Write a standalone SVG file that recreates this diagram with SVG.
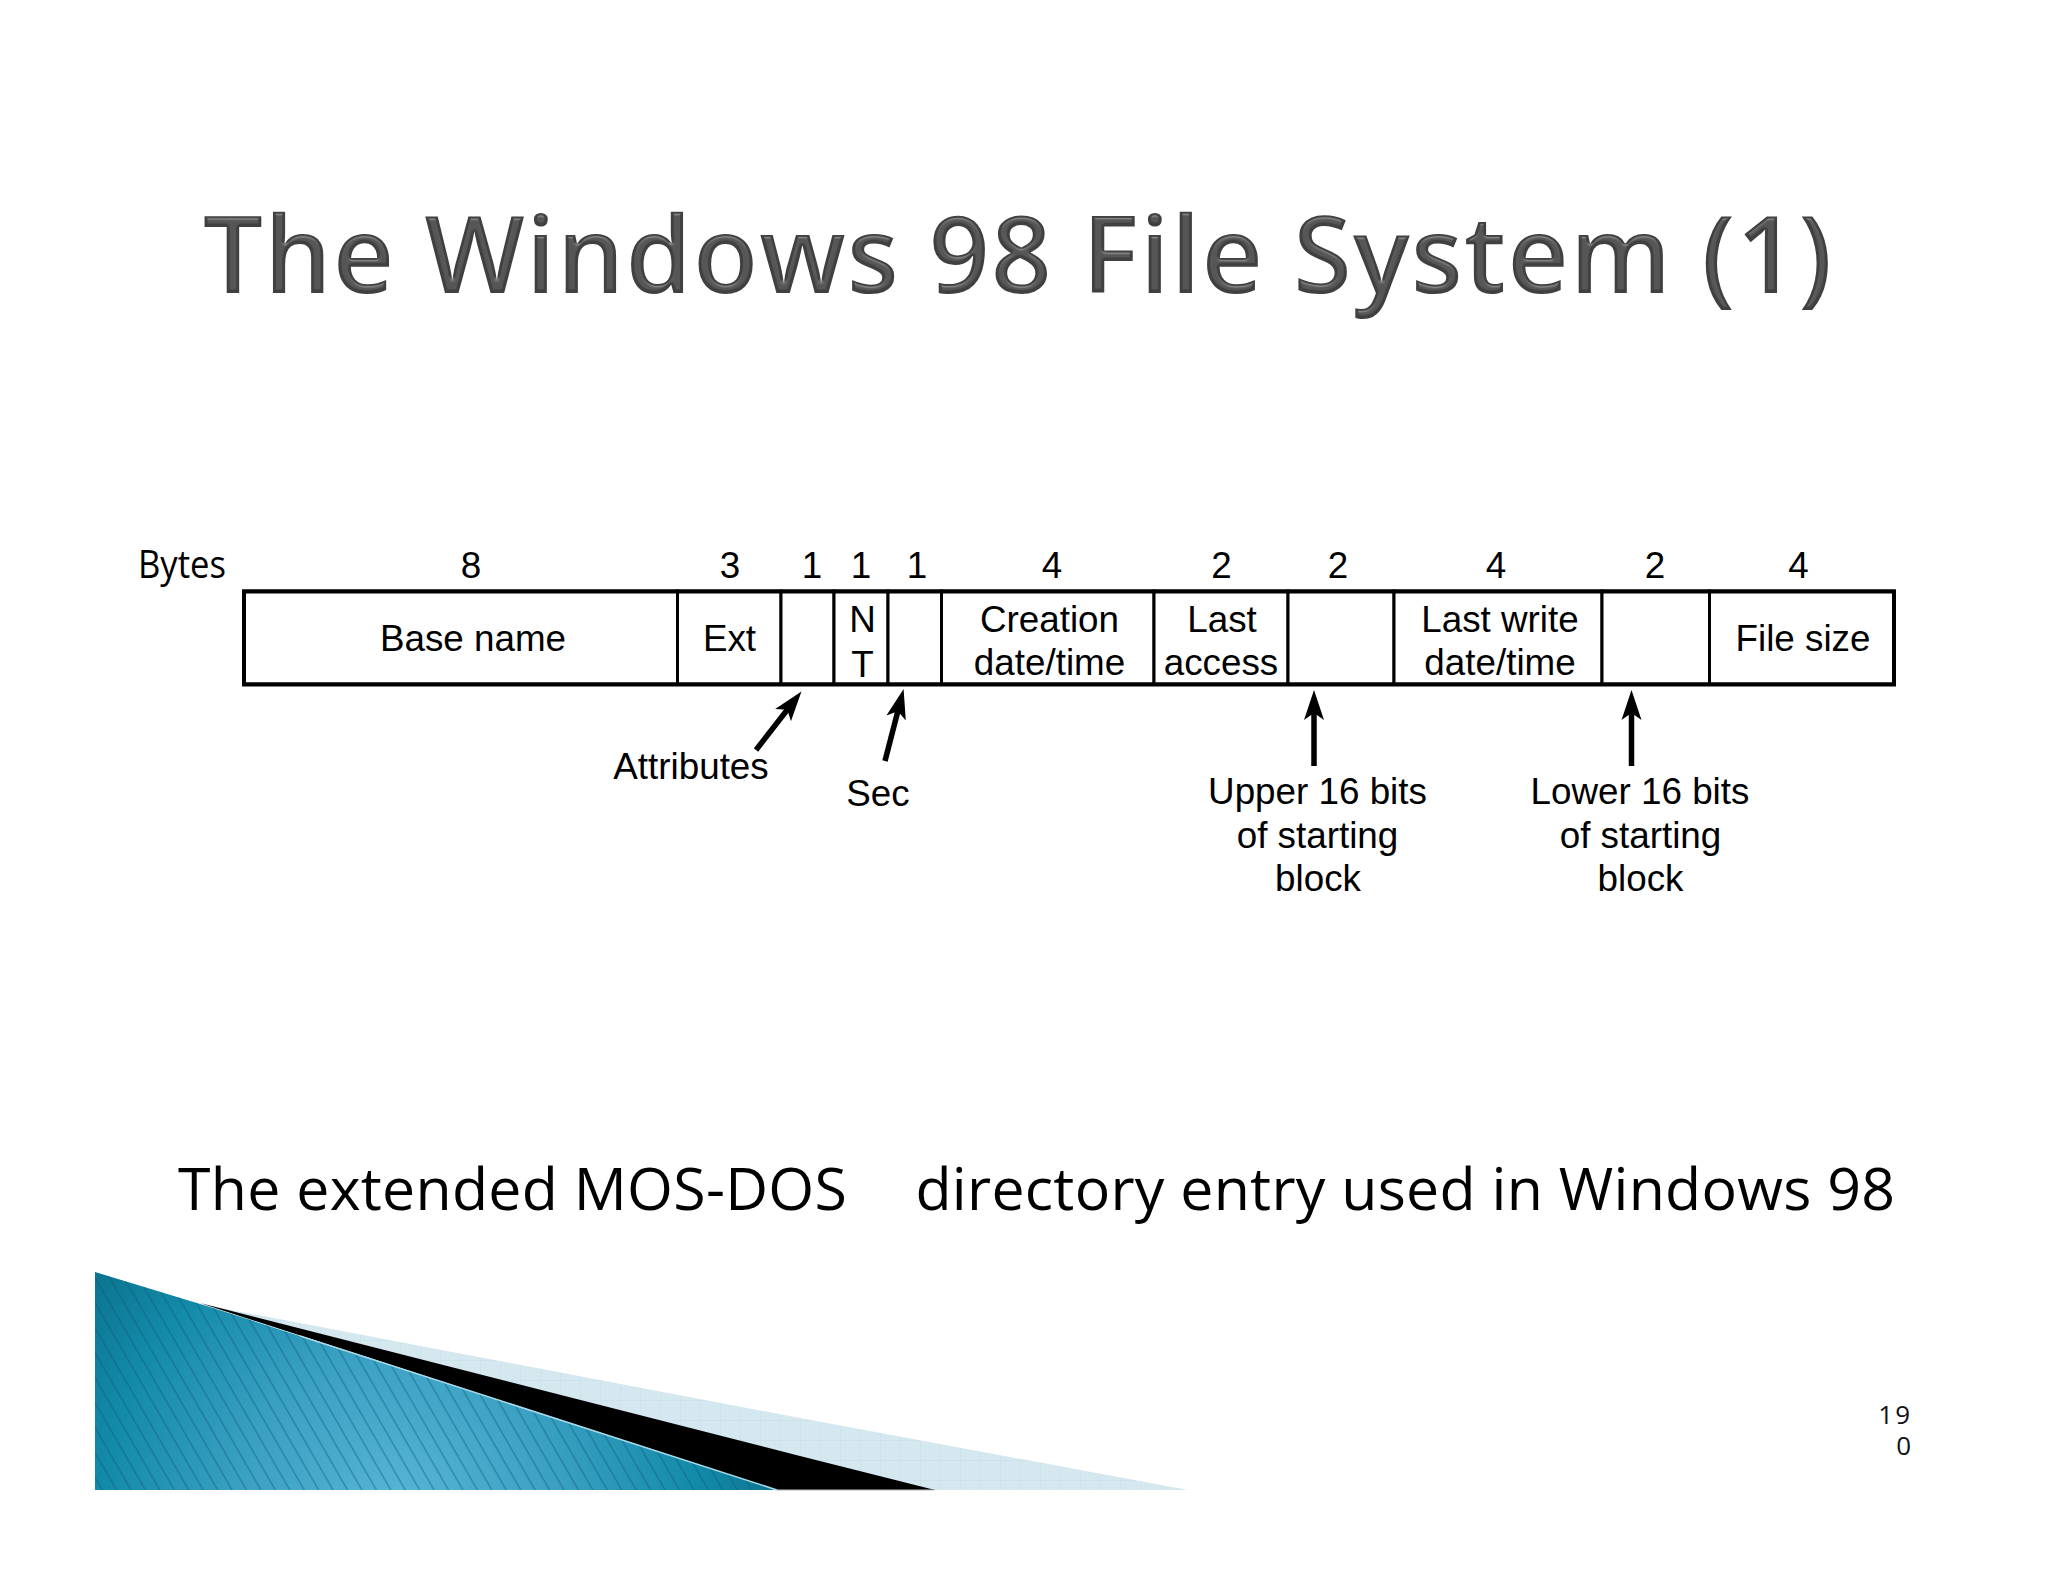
<svg xmlns="http://www.w3.org/2000/svg" width="2048" height="1582" viewBox="0 0 2048 1582">
<style>
.t{font-family:"Liberation Sans",Arial,sans-serif;font-size:36.8px;fill:#000;text-anchor:middle}
.c{fill:#fff;stroke:#000;stroke-width:3}
.h{font-family:"Open Sans","Noto Sans",sans-serif}
.a{fill:none;stroke:#000;stroke-width:5.5;marker-end:url(#arrow)}
</style>
<defs>
<marker id="arrow" markerUnits="userSpaceOnUse" markerWidth="32" markerHeight="24" viewBox="0 0 32 24" refX="10" refY="12" orient="auto">
<path d="M0,2 L30,12 L0,22 L7,12 Z" fill="#000"/>
</marker>
<radialGradient id="blue" gradientUnits="userSpaceOnUse" cx="400" cy="1510" r="450">
<stop offset="0" stop-color="#58b6d6"/><stop offset=".35" stop-color="#3ba1c3"/><stop offset=".66" stop-color="#138aa9"/><stop offset="1" stop-color="#05647c"/>
</radialGradient>
<pattern id="stripes" patternUnits="userSpaceOnUse" width="12.5" height="12.5" patternTransform="rotate(-30)">
<line x1="6" y1="0" x2="6" y2="12.5" stroke="#0b5a78" stroke-width="1.3" stroke-opacity=".5"/>
</pattern>
<pattern id="grid" patternUnits="userSpaceOnUse" width="20" height="20">
<rect width="20" height="20" fill="#d5e7ef"/>
<path d="M0,0H20M0,0V20" stroke="#c6dde8" stroke-width="1"/>
</pattern>
<filter id="bevel" x="-2%" y="-10%" width="104%" height="120%">
<feGaussianBlur in="SourceAlpha" stdDeviation="1.6" result="b"/>
<feSpecularLighting in="b" surfaceScale="3" specularConstant=".6" specularExponent="22" lighting-color="#fff" result="s">
<feDistantLight azimuth="270" elevation="50"/>
</feSpecularLighting>
<feComposite in="s" in2="SourceAlpha" operator="in" result="s2"/>
<feComposite in="SourceGraphic" in2="s2" operator="arithmetic" k1="0" k2="1" k3=".3" k4="0"/>
</filter>
</defs>
<rect width="2048" height="1582" fill="#fff"/>

<g id="wedge">
<polygon points="200,1304 800,1418 1188,1490 800,1490" fill="url(#grid)"/>
<polygon points="200,1303 800,1456 935,1490 777,1490" fill="#000"/>
<polygon points="95,1272 210,1307 777,1490 95,1490" fill="url(#blue)"/>
<polygon points="95,1272 210,1307 777,1490 95,1490" fill="url(#stripes)"/>
<line x1="300" y1="1336" x2="777" y2="1490" stroke="#a6d8e8" stroke-width="1.5"/>
<line x1="777" y1="1490" x2="935" y2="1490" stroke="#bbb" stroke-width="1"/>
</g>

<text id="title" class="h" x="203" y="293" font-size="106" font-weight="600" fill="#3f3f3f" textLength="1629" lengthAdjust="spacing" filter="url(#bevel)">The Windows 98 File System (1)</text>

<g id="node-bytes"><text class="h" x="138" y="578" font-size="38" fill="#000" textLength="88" lengthAdjust="spacingAndGlyphs">Bytes</text></g>

<g id="node-base-name"><rect class="c" x="243.5" y="591" width="434" height="93"/><text class="t" x="471" y="578">8</text><text class="t" x="473" y="651">Base name</text></g>
<g id="node-ext"><rect class="c" x="677.5" y="591" width="103.5" height="93"/><text class="t" x="730" y="578">3</text><text class="t" x="729.5" y="651">Ext</text></g>
<g id="node-attributes"><rect class="c" x="781" y="591" width="53" height="93"/><text class="t" x="812" y="578">1</text></g>
<g id="node-nt"><rect class="c" x="834" y="591" width="54" height="93"/><text class="t" x="861" y="578">1</text><text class="t" x="862.5" y="632">N</text><text class="t" x="862.5" y="677">T</text></g>
<g id="node-sec"><rect class="c" x="888" y="591" width="53.5" height="93"/><text class="t" x="917" y="578">1</text></g>
<g id="node-creation"><rect class="c" x="941.5" y="591" width="212.5" height="93"/><text class="t" x="1052" y="578">4</text><text class="t" x="1049.5" y="632">Creation</text><text class="t" x="1049.5" y="675">date/time</text></g>
<g id="node-last-access"><rect class="c" x="1154" y="591" width="134" height="93"/><text class="t" x="1221.5" y="578">2</text><text class="t" x="1222" y="632">Last</text><text class="t" x="1221" y="675">access</text></g>
<g id="node-upper-block"><rect class="c" x="1288" y="591" width="106" height="93"/><text class="t" x="1338" y="578">2</text></g>
<g id="node-last-write"><rect class="c" x="1394" y="591" width="208" height="93"/><text class="t" x="1500" y="632">Last write</text><text class="t" x="1496" y="578">4</text><text class="t" x="1500" y="675">date/time</text></g>
<g id="node-lower-block"><rect class="c" x="1602" y="591" width="107.5" height="93"/><text class="t" x="1655" y="578">2</text></g>
<g id="node-file-size"><rect class="c" x="1709.5" y="591" width="184.5" height="93"/><text class="t" x="1798.5" y="578">4</text><text class="t" x="1803" y="651">File size</text></g>
<rect id="frame" x="244" y="591.5" width="1650" height="93" fill="none" stroke="#000" stroke-width="4"/>

<g id="connectors">
<line class="a" x1="756" y1="750" x2="789.2" y2="707.3"/>
<line class="a" x1="885" y1="761" x2="898.6" y2="708.3"/>
<line class="a" x1="1314" y1="766" x2="1314" y2="710"/>
<line class="a" x1="1631.5" y1="766" x2="1631.5" y2="710"/>
</g>

<g id="label-attributes"><text class="t" x="691" y="779">Attributes</text></g>
<g id="label-sec"><text class="t" x="878" y="806">Sec</text></g>
<g id="label-upper"><text class="t" x="1317.5" y="804">Upper 16 bits</text><text class="t" x="1317.5" y="848">of starting</text><text class="t" x="1318" y="891">block</text></g>
<g id="label-lower"><text class="t" x="1640" y="804">Lower 16 bits</text><text class="t" x="1640.5" y="848">of starting</text><text class="t" x="1640.5" y="891">block</text></g>

<text id="caption" class="h" x="178" y="1209.5" font-size="59" fill="#000" style="white-space:pre" textLength="1717" lengthAdjust="spacing">The extended MOS-DOS    <tspan dx="6">directory entry used in Windows 98</tspan></text>

<text id="page-number" class="h" font-size="26" fill="#111" text-anchor="end"><tspan x="1912" y="1424" letter-spacing="2">19</tspan><tspan x="1911" y="1455">0</tspan></text>
</svg>
